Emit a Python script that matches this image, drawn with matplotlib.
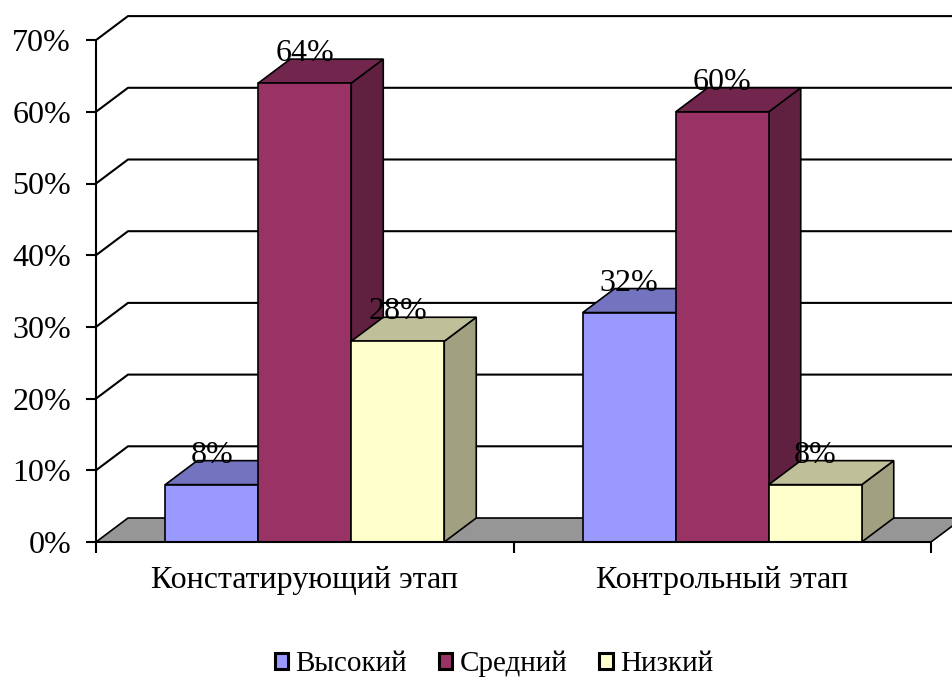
import matplotlib.pyplot as plt
import matplotlib.colors as mcolors
from matplotlib.patches import Polygon, Patch
import numpy as np

# data
stages = ['Констатирующий этап', 'Контрольный этап']
levels = ['Высокий', 'Средний', 'Низкий']
high = [0.08, 0.32]
mid = [0.64, 0.60]
low = [0.28, 0.08]
labels_high = ['8%', '32%']
labels_mid = ['64%', '60%']
labels_low = ['28%', '8%']
yticks = [0, 0.1, 0.2, 0.3, 0.4, 0.5, 0.6, 0.7]
ytick_labels = ['0%', '10%', '20%', '30%', '40%', '50%', '60%', '70%']

colors = ['#9999FF', '#993366', '#FFFFCC']

plt.rcParams['font.family'] = ['Liberation Serif', 'DejaVu Serif']

fig = plt.figure(figsize=(9.52, 6.77), dpi=100)
# plot area: left axis at x=96px, floor front at y=542px
ax = fig.add_axes([96 / 952, (677 - 542) / 677, (952 - 96) / 952, 542 / 677])
px_x = 417.5  # pixels per category unit
px_y = 717.0  # pixels per 1.0 (100%)
ax.set_xlim(-0.5, -0.5 + (952 - 96) / px_x)
ax.set_ylim(0, 542 / px_y)

# depth of the 3D effect in data units
dx = 32 / px_x
dy = 24 / px_y
bar_w = 93 / px_x
xmax = ax.get_xlim()[1]

# floor
floor = Polygon([(-0.5, 0), (1.5, 0), (1.5 + dx, dy), (-0.5 + dx, dy)],
                closed=True, facecolor='#969696', edgecolor='black', lw=1.2, zorder=1)
ax.add_patch(floor)

# back-wall gridlines with diagonal connectors
for v in yticks[1:]:
    ax.plot([-0.5, -0.5 + dx, xmax + 0.1], [v, v + dy, v + dy],
            color='black', lw=1.5, zorder=1, solid_capstyle='butt')


def shade(c, f):
    return tuple(np.array(mcolors.to_rgb(c)) * f)


series = [high, mid, low]
series_labels = [labels_high, labels_mid, labels_low]
z = 2
for g in range(len(stages)):
    for i, vals in enumerate(series):
        xc = g + (i - 1) * bar_w
        h = vals[g]
        x0, x1 = xc - bar_w / 2, xc + bar_w / 2
        # side face
        ax.add_patch(Polygon([(x1, 0), (x1 + dx, dy), (x1 + dx, h + dy), (x1, h)],
                             closed=True, facecolor=shade(colors[i], 0.63),
                             edgecolor='black', lw=1.2, zorder=z))
        # top face
        ax.add_patch(Polygon([(x0, h), (x1, h), (x1 + dx, h + dy), (x0 + dx, h + dy)],
                             closed=True, facecolor=shade(colors[i], 0.75),
                             edgecolor='black', lw=1.2, zorder=z))
        # front face
        ax.bar(xc, h, width=bar_w, color=colors[i], edgecolor='black',
               lw=1.2, zorder=z + 0.5)
        z += 1

for g in range(len(stages)):
    for i, (vals, labs) in enumerate(zip(series, series_labels)):
        xc = g + (i - 1) * bar_w
        ax.text(xc, vals[g] + 0.041, labs[g], ha='center', va='center',
                fontsize=23, color='black', zorder=20)

# axes styling
for s in ['top', 'right']:
    ax.spines[s].set_visible(False)
ax.spines['left'].set_bounds(0, 0.7)
ax.spines['bottom'].set_bounds(-0.5, 1.5)
ax.spines['left'].set_linewidth(1.5)
ax.spines['bottom'].set_linewidth(1.5)
ax.spines['left'].set_zorder(15)
ax.spines['bottom'].set_zorder(15)

ax.set_yticks(yticks)
ax.set_yticklabels(ytick_labels, fontsize=23)
ax.tick_params(axis='y', direction='out', length=7, width=1.5, pad=11)

ax.set_xticks([0, 1])
ax.set_xticklabels(stages, fontsize=23)
ax.set_xticks([-0.5, 0.5, 1.5], minor=True)
ax.tick_params(axis='x', which='major', length=0, pad=17)
ax.tick_params(axis='x', which='minor', direction='out', length=8, width=1.5)

handles = [Patch(facecolor=c, edgecolor='black', lw=2.2) for c in colors]
fig.legend(handles, levels, loc='center', bbox_to_anchor=(494 / 952, 1 - 664 / 677),
           ncol=3, frameon=False, fontsize=21, handlelength=0.45, handleheight=0.45,
           handletextpad=0.25, columnspacing=1.1, borderaxespad=0, borderpad=0)

fig.savefig('out.png', dpi=100)
